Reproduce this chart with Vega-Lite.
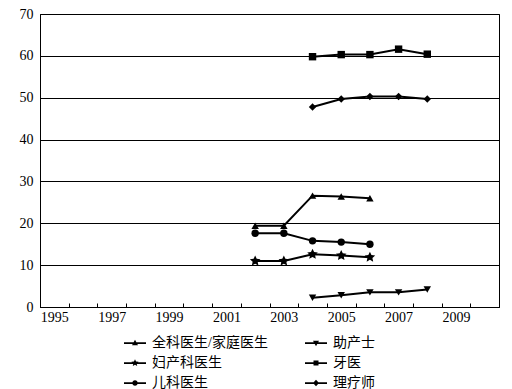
{
  "$schema": "https://vega.github.io/schema/vega-lite/v6.json",
  "width": 459,
  "height": 293,
  "autosize": {"type": "none"},
  "padding": {"left": 40, "top": 14, "right": 13, "bottom": 82},
  "background": "white",
  "config": {
    "view": {"stroke": "black", "strokeWidth": 1},
    "font": "Liberation Serif",
    "axis": {"labelFont": "Liberation Serif", "labelFontSize": 14, "labelColor": "black", "domainColor": "black", "tickColor": "black", "gridColor": "black", "gridOpacity": 1, "title": null}
  },
  "data": {"values": [
    {"year": 2002, "series": "全科医生/家庭医生", "value": 19.4},
    {"year": 2003, "series": "全科医生/家庭医生", "value": 19.4},
    {"year": 2004, "series": "全科医生/家庭医生", "value": 26.6},
    {"year": 2005, "series": "全科医生/家庭医生", "value": 26.4},
    {"year": 2006, "series": "全科医生/家庭医生", "value": 26.0},
    {"year": 2002, "series": "儿科医生", "value": 17.6},
    {"year": 2003, "series": "儿科医生", "value": 17.6},
    {"year": 2004, "series": "儿科医生", "value": 15.8},
    {"year": 2005, "series": "儿科医生", "value": 15.5},
    {"year": 2006, "series": "儿科医生", "value": 15.0},
    {"year": 2002, "series": "妇产科医生", "value": 11.0},
    {"year": 2003, "series": "妇产科医生", "value": 11.0},
    {"year": 2004, "series": "妇产科医生", "value": 12.6},
    {"year": 2005, "series": "妇产科医生", "value": 12.3},
    {"year": 2006, "series": "妇产科医生", "value": 11.9},
    {"year": 2004, "series": "助产士", "value": 2.2},
    {"year": 2005, "series": "助产士", "value": 2.8},
    {"year": 2006, "series": "助产士", "value": 3.5},
    {"year": 2007, "series": "助产士", "value": 3.5},
    {"year": 2008, "series": "助产士", "value": 4.2},
    {"year": 2004, "series": "牙医", "value": 59.8},
    {"year": 2005, "series": "牙医", "value": 60.3},
    {"year": 2006, "series": "牙医", "value": 60.3},
    {"year": 2007, "series": "牙医", "value": 61.6},
    {"year": 2008, "series": "牙医", "value": 60.4},
    {"year": 2004, "series": "理疗师", "value": 47.8},
    {"year": 2005, "series": "理疗师", "value": 49.7},
    {"year": 2006, "series": "理疗师", "value": 50.3},
    {"year": 2007, "series": "理疗师", "value": 50.3},
    {"year": 2008, "series": "理疗师", "value": 49.7}
  ]},
  "encoding": {
    "x": {
      "field": "year", "type": "ordinal", "bandPosition": 0.5,
      "scale": {"type": "band", "domain": [1995,1996,1997,1998,1999,2000,2001,2002,2003,2004,2005,2006,2007,2008,2009,2010], "paddingInner": 0, "paddingOuter": 0},
      "axis": {"labelAngle": 0, "tickBand": "extent", "tickSize": -4, "labelPadding": 7, "labelExpr": "datum.value % 2 == 1 ? datum.label : ''", "grid": false}
    },
    "y": {
      "field": "value", "type": "quantitative",
      "scale": {"domain": [0, 70], "nice": false},
      "axis": {"values": [0,10,20,30,40,50,60,70], "ticks": false, "labelPadding": 7, "grid": true}
    }
  },
  "layer": [
    {
      "mark": {"type": "line", "color": "black", "strokeWidth": 2},
      "encoding": {"detail": {"field": "series"}}
    },
    {
      "mark": {"type": "point", "filled": true, "color": "black", "opacity": 1, "size": 55},
      "encoding": {
        "shape": {
          "field": "series", "type": "nominal",
          "scale": {
            "domain": ["全科医生/家庭医生", "助产士", "妇产科医生", "牙医", "儿科医生", "理疗师"],
            "range": ["triangle-up", "triangle-down", "M0,-1.5L0.42,-0.58L1.43,-0.46L0.68,0.22L0.88,1.21L0,0.72L-0.88,1.21L-0.68,0.22L-1.43,-0.46L-0.42,-0.58Z", "square", "circle", "diamond"]
          },
          "legend": null
        }
      }
    },
    {
      "transform": [{"filter": "false"}],
      "mark": {"type": "point", "filled": true, "color": "black", "opacity": 1},
      "encoding": {
        "shape": {
          "field": "series", "type": "nominal",
          "scale": {
            "domain": ["全科医生/家庭医生", "助产士", "妇产科医生", "牙医", "儿科医生", "理疗师"],
            "range": [
              "M-4.4,-0.35H4.4V0.35H-4.4ZM0,-1.3L1.2,0.9L-1.2,0.9Z",
              "M-4.4,-0.35H4.4V0.35H-4.4ZM0,1.3L-1.2,-0.9L1.2,-0.9Z",
              "M-4.4,-0.35H4.4V0.35H-4.4ZM0,-1.5L0.42,-0.58L1.43,-0.46L0.68,0.22L0.88,1.21L0,0.72L-0.88,1.21L-0.68,0.22L-1.43,-0.46L-0.42,-0.58Z",
              "M-4.4,-0.35H4.4V0.35H-4.4ZM-1,-1H1V1H-1Z",
              "M-4.4,-0.35H4.4V0.35H-4.4ZM-1.1,0A1.1,1.1 0 1,1 1.1,0A1.1,1.1 0 1,1 -1.1,0Z",
              "M-4.4,-0.35H4.4V0.35H-4.4ZM0,-1.3L1.2,0L0,1.3L-1.2,0Z"
            ]
          },
          "legend": {
            "title": null,
            "orient": "none",
            "legendX": 88,
            "legendY": 322,
            "columns": 2,
            "direction": "horizontal",
            "padding": 0,
            "columnPadding": 37,
            "rowPadding": 6,
            "symbolSize": 25,
            "symbolFillColor": "black",
            "symbolStrokeWidth": 0,
            "symbolOpacity": 1,
            "labelOffset": 10,
            "labelFont": "Liberation Serif, Noto Sans CJK SC",
            "labelFontSize": 14,
            "labelColor": "black",
            "labelLimit": 300,
            "encode": {
              "symbols": {
                "update": {
                  "fill": {"value": "black"},
                  "strokeWidth": {"value": 0},
                  "opacity": {"value": 1}
                }
              }
            }
          }
        }
      }
    }
  ],
  "resolve": {"scale": {"shape": "independent"}, "legend": {"shape": "independent"}}
}
